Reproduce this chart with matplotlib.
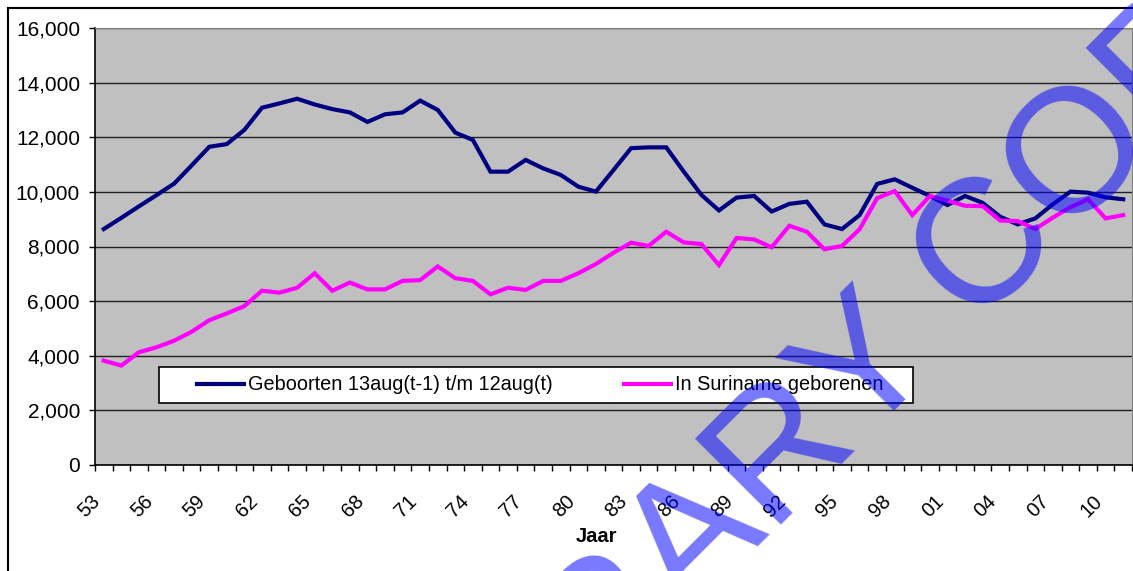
import numpy as np
import matplotlib
matplotlib.use('Agg')
import matplotlib.pyplot as plt
from matplotlib.lines import Line2D
from matplotlib.patches import Rectangle
from matplotlib.ticker import FuncFormatter
from matplotlib.transforms import ScaledTranslation

plt.rcParams['font.family'] = ['Liberation Sans', 'DejaVu Sans']

years = list(range(1953, 2012))
geboorten = [8640, 9050, 9470, 9880, 10300, 10970, 11650, 11750, 12270, 13080,
             13240, 13410, 13200, 13030, 12910, 12560, 12840, 12910, 13340, 13000,
             12170, 11900, 10740, 10740, 11170, 10860, 10620, 10190, 10010, 10800,
             11600, 11630, 11630, 10740, 9890, 9320, 9790, 9850, 9280, 9560,
             9640, 8810, 8640, 9150, 10290, 10460, 10150, 9850, 9520, 9850,
             9600, 9090, 8810, 9030, 9550, 10010, 9970, 9800, 9730]
suriname = [3820, 3640, 4130, 4310, 4550, 4880, 5300, 5550, 5820, 6380,
            6310, 6490, 7020, 6380, 6680, 6430, 6430, 6740, 6770, 7270,
            6840, 6740, 6250, 6490, 6410, 6740, 6740, 7020, 7360, 7770,
            8140, 8020, 8540, 8150, 8090, 7320, 8310, 8260, 7970, 8760,
            8540, 7900, 8020, 8630, 9770, 10030, 9150, 9850, 9680, 9490,
            9480, 8950, 8930, 8640, 9060, 9440, 9730, 9030, 9150]
labels = ['Geboorten 13aug(t-1) t/m 12aug(t)', 'In Suriname geborenen']
colors = ['#000080', '#ff00ff']

W, H = 1133, 571
fig = plt.figure(figsize=(W / 100, H / 100), dpi=100)
ax = fig.add_axes([95 / W, 106 / H, 1037 / W, 437 / H])
ax.set_facecolor('#c0c0c0')

x = np.arange(len(years))
ax.plot(x, geboorten, color=colors[0], lw=3.0, label=labels[0], zorder=3,
        solid_joinstyle='miter')
ax.plot(x, suriname, color=colors[1], lw=3.0, label=labels[1], zorder=3,
        solid_joinstyle='miter')

ax.set_xlim(-0.5, len(years) - 0.5)
ax.set_ylim(0, 16000)
ax.set_yticks(np.arange(0, 16001, 2000))
ax.yaxis.set_major_formatter(FuncFormatter(lambda v, p: '{:,.0f}'.format(v)))
ax.grid(axis='y', color='#202020', lw=1.0)
ax.set_axisbelow(True)

ax.set_xticks(np.arange(-0.5, len(years), 1))
ax.set_xticklabels([])
lab_idx = np.arange(0, len(years), 3)
ax.set_xticks(lab_idx, minor=True)
ax.set_xticklabels(['%02d' % (years[i] % 100) for i in lab_idx], minor=True,
                   rotation=45, ha='right', va='top', fontsize=14.5)
shift = ScaledTranslation(-4 / 100, 0, fig.dpi_scale_trans)
for t in ax.get_xticklabels(minor=True):
    t.set_transform(t.get_transform() + shift)
ax.tick_params(axis='x', which='major', direction='out', length=4.5, width=1, color='black')
ax.tick_params(axis='x', which='minor', length=0, pad=19)
ax.tick_params(axis='y', direction='out', length=4.5, width=1, pad=6.3, labelsize=15)

for s in ['top', 'right']:
    ax.spines[s].set_color('#808080')
for s in ['left', 'bottom']:
    ax.spines[s].set_color('black')
    ax.spines[s].set_linewidth(1.2)

ax.add_patch(Rectangle((64 / 1037, 62 / 437), 754 / 1037, 36 / 437,
                       transform=ax.transAxes, facecolor='white',
                       edgecolor='black', lw=1.2, zorder=4))
leg = ax.legend(loc='center left', bbox_to_anchor=(102 / 1037, 80 / 437),
                frameon=False, ncol=2, borderpad=0, borderaxespad=0,
                handlelength=2.35, handletextpad=0.2, columnspacing=3.6,
                fontsize=14.3)
leg.set_zorder(5)

fig.text(596 / W, 1 - 537 / H, 'Jaar', ha='center', va='center',
         fontsize=14.5, fontweight='bold')

fig.add_artist(Line2D([8 / W, 8 / W], [0, 1 - 8 / H], transform=fig.transFigure,
                      color='black', lw=1.5))
fig.add_artist(Line2D([8 / W, 1], [1 - 8 / H, 1 - 8 / H], transform=fig.transFigure,
                      color='black', lw=1.5))

# watermark, baseline start lies below the image
fig.text(411 / W, -324 / H, 'LIBRARY COPY', rotation=45, rotation_mode='anchor',
         ha='left', va='baseline', fontsize=127, color='blue', alpha=0.53, zorder=10)

fig.savefig('out.png', dpi=100)
